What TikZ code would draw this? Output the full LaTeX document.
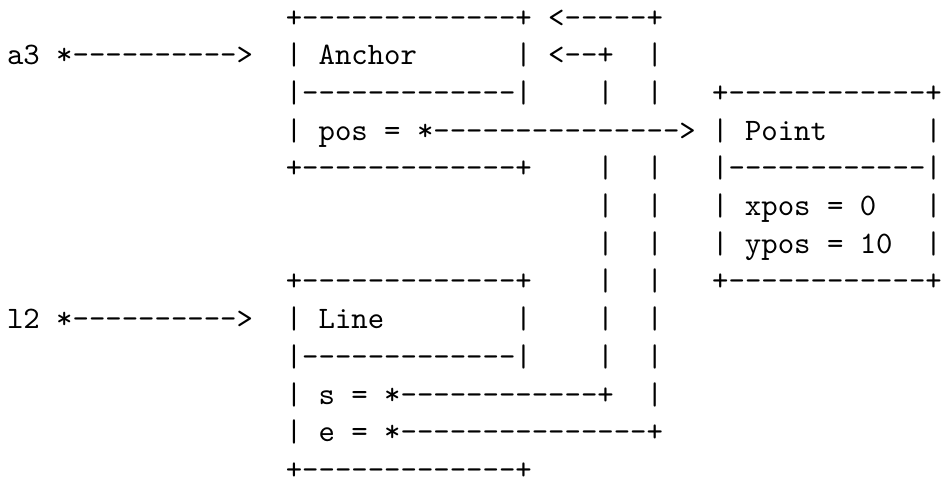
\documentclass[tikz,border=0pt]{standalone}
\usepackage{fontspec}
% Latin Modern Mono, 10pt design size, scaled up
\newfontfamily\codefont{lmmono10-regular}[Extension=.otf]
% Monospaced text grid: one character cell is \cw wide, one text row is \lh high.
\newcommand\cw{16.4}
\newcommand\lh{37.67}
\newcommand\xo{7}
\newcommand\yo{27.3}
% A run of hyphens, each boxed on its own so no dash ligature forms.
\newcount\dashcnt
\newcommand\dashrun[1]{\dashcnt=#1\relax\loop\ifnum\dashcnt>0 \hbox{-}\advance\dashcnt-1 \repeat}
\tikzset{
  glyphs/.style={anchor=base west, inner sep=0pt, outer sep=0pt,
    font=\codefont\fontsize{31.24}{37.67}\selectfont}
}
% \cell{name}{column}{row}{text}
\newcommand\cell[4]{\node[glyphs] (#1) at ({\xo+#2*\cw},{\yo+(#3-1)*\lh}) {#4};}
\begin{document}
\begin{tikzpicture}[x=1pt,y=-1pt]
\fill[white] (0,0) rectangle (944,486);
\useasboundingbox (0,0) rectangle (944,486);

% row 1: top of Anchor and the loop-back arrow
\cell{anchorTop}{17}{1}{+\dashrun{13}+}
\cell{backOuter}{33}{1}{<\dashrun{5}+}
% row 2
\cell{aThree}{0}{2}{a3 *\dashrun{10}>}
\cell{anchorTitle}{17}{2}{| Anchor}
\cell{anchorRight}{31}{2}{| <\dashrun{2}+}
\cell{outerR2}{39}{2}{|}
% row 3
\cell{anchorRule}{17}{3}{|\dashrun{13}|}
\cell{innerR3}{36}{3}{|}
\cell{outerR3}{39}{3}{|}
\cell{pointTop}{43}{3}{+\dashrun{12}+}
% row 4
\cell{posField}{17}{4}{| pos = *\dashrun{15}> | Point}
\cell{pointTitleR}{56}{4}{|}
% row 5
\cell{anchorBottom}{17}{5}{+\dashrun{13}+}
\cell{innerR5}{36}{5}{|}
\cell{outerR5}{39}{5}{|}
\cell{pointRule}{43}{5}{|\dashrun{12}|}
% row 6
\cell{innerR6}{36}{6}{|}
\cell{outerR6}{39}{6}{|}
\cell{xposField}{43}{6}{| xpos = 0}
\cell{xposR}{56}{6}{|}
% row 7
\cell{innerR7}{36}{7}{|}
\cell{outerR7}{39}{7}{|}
\cell{yposField}{43}{7}{| ypos = 10}
\cell{yposR}{56}{7}{|}
% row 8
\cell{lineTop}{17}{8}{+\dashrun{13}+}
\cell{innerR8}{36}{8}{|}
\cell{outerR8}{39}{8}{|}
\cell{pointBottom}{43}{8}{+\dashrun{12}+}
% row 9
\cell{lTwo}{0}{9}{l2 *\dashrun{10}>}
\cell{lineTitle}{17}{9}{| Line}
\cell{lineTitleR}{31}{9}{|}
\cell{innerR9}{36}{9}{|}
\cell{outerR9}{39}{9}{|}
% row 10
\cell{lineRule}{17}{10}{|\dashrun{13}|}
\cell{innerR10}{36}{10}{|}
\cell{outerR10}{39}{10}{|}
% row 11
\cell{sField}{17}{11}{| s = *\dashrun{12}+}
\cell{outerR11}{39}{11}{|}
% row 12
\cell{eField}{17}{12}{| e = *\dashrun{15}+}
% row 13
\cell{lineBottom}{17}{13}{+\dashrun{13}+}
\end{tikzpicture}
\end{document}
